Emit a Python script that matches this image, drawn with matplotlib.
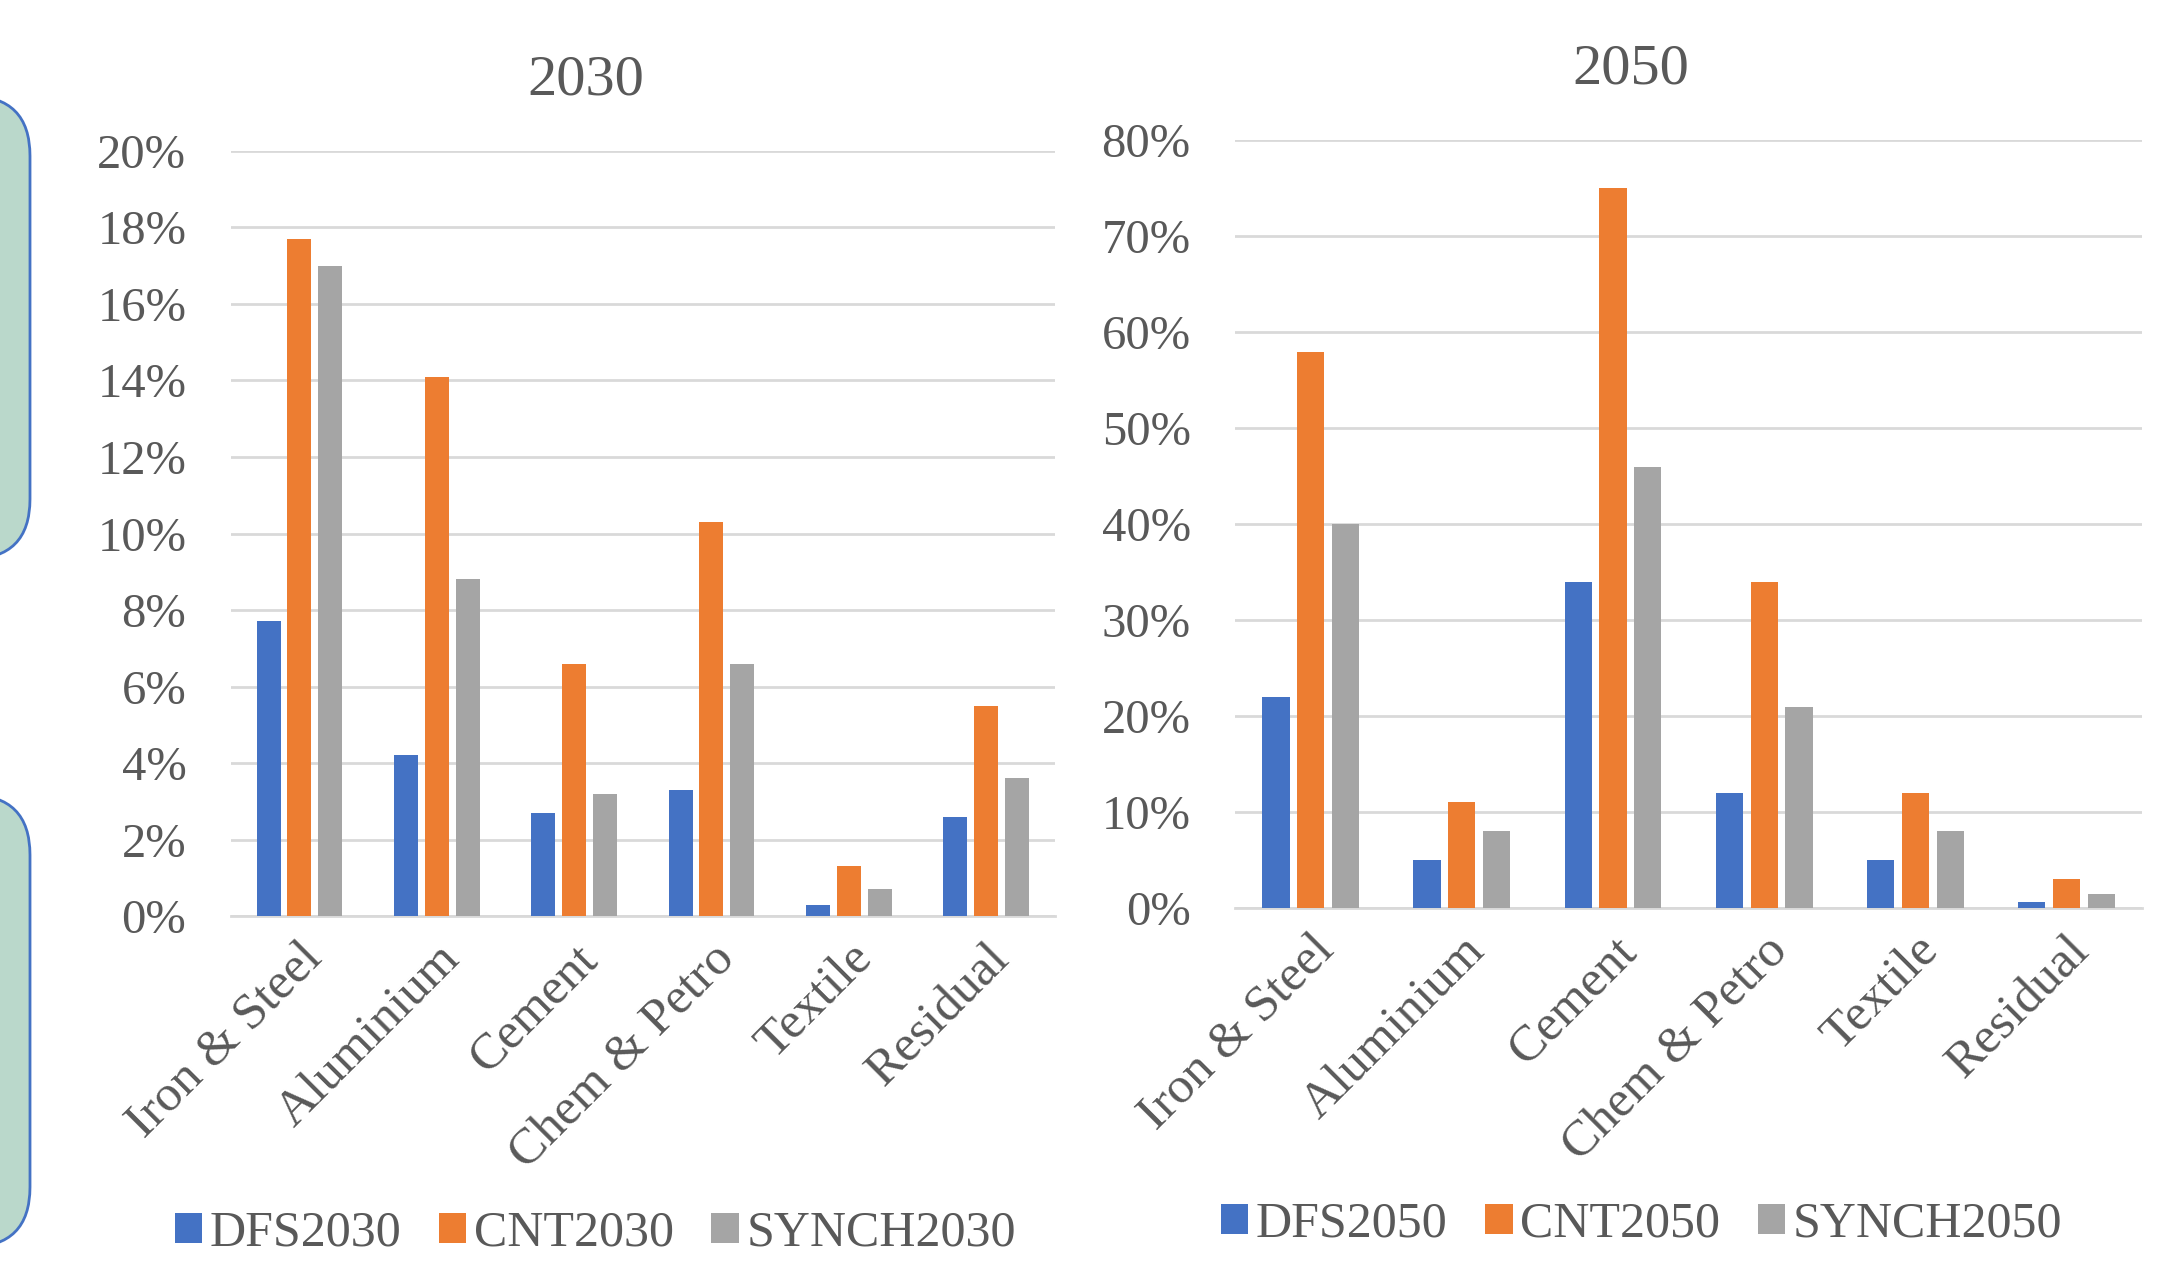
import matplotlib
matplotlib.use("Agg")
import matplotlib.pyplot as plt
from matplotlib.patches import FancyBboxPatch
from matplotlib.ticker import PercentFormatter
from matplotlib.transforms import IdentityTransform

# Sector shares for each scenario
sectors = ["Iron & Steel", "Aluminium", "Cement", "Chem & Petro", "Textile", "Residual"]

dfs2030 = [7.7, 4.2, 2.7, 3.3, 0.3, 2.6]
cnt2030 = [17.7, 14.1, 6.6, 10.3, 1.3, 5.5]
synch2030 = [17.0, 8.8, 3.2, 6.6, 0.7, 3.6]

dfs2050 = [22, 5, 34, 12, 5, 0.6]
cnt2050 = [58, 11, 75, 34, 12, 3]
synch2050 = [40, 8, 46, 21, 8, 1.5]

colors = ["#4472C4", "#ED7D31", "#A5A5A5"]
txt = "#595959"

plt.rcParams["font.family"] = ["Liberation Serif", "DejaVu Serif"]

fig = plt.figure(figsize=(21.57, 12.73), dpi=100)

# rounded side panels, partly cut off at the left edge
for y0, h in [(1273 - 559, 463), (1273 - 1247, 452)]:
    box = FancyBboxPatch((-100, y0), 130, h, boxstyle="round,pad=0,rounding_size=60",
                         facecolor="#BAD8CB", edgecolor="#4472C4", linewidth=2,
                         transform=IdentityTransform())
    fig.patches.append(box)


def draw(ax, series, names, ymax, step, width, gap):
    x = range(len(sectors))
    for i, (vals, name) in enumerate(zip(series, names)):
        pos = [k + (i - 1) * gap for k in x]
        ax.bar(pos, vals, width=width, color=colors[i], label=name, zorder=3)
    ax.set_xlim(-0.5, len(sectors) - 0.5)
    ax.set_ylim(0, ymax)
    ax.set_yticks(range(0, ymax + 1, step))
    ax.yaxis.set_major_formatter(PercentFormatter(decimals=0))
    ax.grid(axis="y", color="#D9D9D9", linewidth=2, zorder=0)
    for s in ["top", "right", "left"]:
        ax.spines[s].set_visible(False)
    ax.spines["bottom"].set_color("#D9D9D9")
    ax.spines["bottom"].set_linewidth(2)
    ax.tick_params(axis="y", length=0, labelsize=35, colors=txt, pad=32)
    ax.tick_params(axis="x", length=0, labelsize=37, colors=txt, pad=14)
    ax.set_xticks(list(x))
    ax.set_xticklabels(sectors, rotation=45, ha="right", rotation_mode="anchor")


ax1 = fig.add_axes([0.107, 0.2804, 0.382, 0.601])
draw(ax1, [dfs2030, cnt2030, synch2030],
     ["DFS2030", "CNT2030", "SYNCH2030"], 20, 2, 0.175, 0.225)

ax2 = fig.add_axes([0.5726, 0.2867, 0.4205, 0.603])
draw(ax2, [dfs2050, cnt2050, synch2050],
     ["DFS2050", "CNT2050", "SYNCH2050"], 80, 10, 0.18, 0.23)

fig.text(0.2717, 0.937, "2030", ha="center", va="center", fontsize=42, color=txt)
fig.text(0.756, 0.9455, "2050", ha="center", va="center", fontsize=42, color=txt)

for ax, cx, cy in [(ax1, 0.276, 0.031), (ax2, 0.761, 0.038)]:
    leg = ax.legend(loc="center", bbox_to_anchor=(cx, cy), bbox_transform=fig.transFigure,
                    ncol=3, frameon=False, fontsize=36, handlelength=0.55, handleheight=0.55,
                    handletextpad=0.15, columnspacing=0.75)
    for t in leg.get_texts():
        t.set_color(txt)

fig.savefig("out.png", dpi=100)
